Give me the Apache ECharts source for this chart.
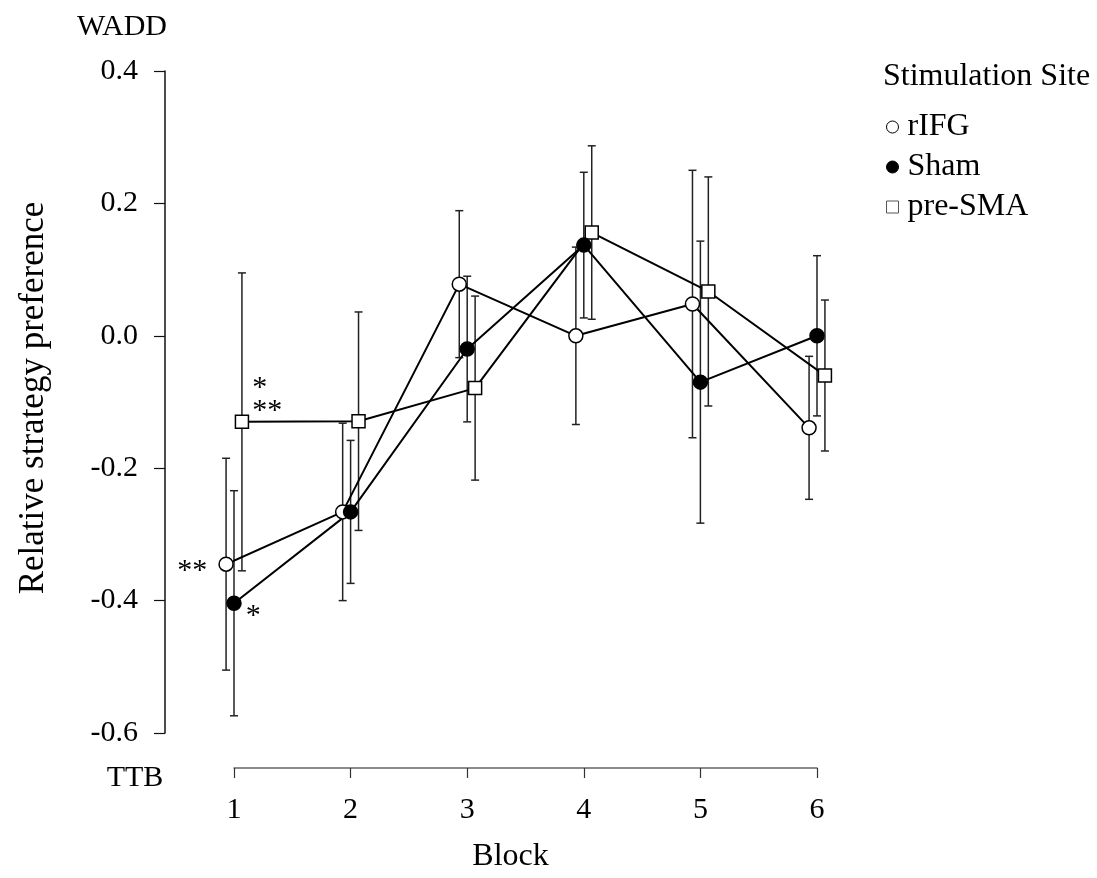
<!DOCTYPE html>
<html>
<head>
<meta charset="utf-8">
<style>
  html, body { margin: 0; padding: 0; background: #fff; }
  #chart { width: 1097px; height: 878px; }
</style>
<script src="https://cdn.jsdelivr.net/npm/echarts@6/dist/echarts.min.js"></script>
</head>
<body>
<div id="chart"></div>
<script>
// Blocks on the x axis
const blocks = [1, 2, 3, 4, 5, 6];

// Mean relative strategy preference per block (WADD positive, TTB negative)
const rIFG   = [-0.345, -0.266,  0.078, 0.000,  0.048, -0.139];
const sham   = [-0.404, -0.266, -0.020, 0.137, -0.070,  0.000];
const preSMA = [-0.130, -0.129, -0.079, 0.156,  0.067, -0.060];

// Error bar half-lengths
const rIFGErr   = [0.160, 0.134, 0.111, 0.134, 0.202, 0.108];
const shamErr   = [0.170, 0.108, 0.110, 0.110, 0.213, 0.121];
const preSMAErr = [0.225, 0.165, 0.139, 0.131, 0.173, 0.114];

// Significance markers per block
const rIFGSig   = ['**', '', '', '', '', ''];
const shamSig   = ['*', '', '', '', '', ''];
const preSMASig = ['*\n**', '', '', '', '', ''];

// Y axis tick values
const yTicks = [-0.6, -0.4, -0.2, 0.0, 0.2, 0.4];

const FONT = 'Liberation Serif';
const DODGE = 0.068;   // horizontal spread of the three groups within a block

const chart = echarts.init(document.getElementById('chart'), null, { renderer: 'canvas' });

function pts(values, shift) {
  return blocks.map((b, i) => [b + shift, values[i]]);
}
function errPts(values, errs, shift) {
  return blocks.map((b, i) => [b + shift, values[i], errs[i]]);
}
function markerPts(values, sig, shift) {
  return blocks.map((b, i) => ({ value: [b + shift, values[i]], sig: sig[i] }));
}

function errorBar(params, api) {
  const x = api.value(0), v = api.value(1), e = api.value(2);
  const top = api.coord([x, v + e]);
  const bot = api.coord([x, v - e]);
  const cap = 4;
  const style = { stroke: '#222', lineWidth: 1.5 };
  return {
    type: 'group',
    children: [
      { type: 'line', shape: { x1: top[0], y1: top[1], x2: bot[0], y2: bot[1] }, style },
      { type: 'line', shape: { x1: top[0] - cap, y1: top[1], x2: top[0] + cap, y2: top[1] }, style },
      { type: 'line', shape: { x1: bot[0] - cap, y1: bot[1], x2: bot[0] + cap, y2: bot[1] }, style }
    ]
  };
}

function sigLabel(position, offset, align) {
  return {
    show: true,
    position: position,
    offset: offset,
    align: align,
    fontFamily: FONT,
    fontSize: 30,
    lineHeight: 23,
    color: '#000',
    formatter: p => p.data.sig || ''
  };
}

const groups = [
  { name: 'rIFG',    vals: rIFG,   errs: rIFGErr,   sig: rIFGSig,   shift: -DODGE,
    symbol: 'circle', size: 14, fill: '#fff', label: sigLabel('left', [-6, 7]) },
  { name: 'pre-SMA', vals: preSMA, errs: preSMAErr, sig: preSMASig, shift: DODGE,
    symbol: 'rect',   size: 13, fill: '#fff', label: sigLabel('right', [-2, -22], 'left') },
  { name: 'Sham',    vals: sham,   errs: shamErr,   sig: shamSig,   shift: 0,
    symbol: 'circle', size: 14, fill: '#000', label: sigLabel('right', [-1, 13]) }
];

const series = [];
groups.forEach(g => {
  series.push({
    name: g.name + ' SE',
    type: 'custom',
    renderItem: errorBar,
    data: errPts(g.vals, g.errs, g.shift),
    encode: { x: 0, y: 1 },
    clip: false,
    z: 1,
    silent: true
  });
});
groups.forEach(g => {
  series.push({
    name: g.name + ' line',
    type: 'line',
    data: pts(g.vals, g.shift),
    showSymbol: false,
    symbol: 'none',
    clip: false,
    lineStyle: { color: '#000', width: 2 },
    z: 2,
    silent: true
  });
});
groups.forEach(g => {
  series.push({
    name: g.name,
    type: 'scatter',
    data: markerPts(g.vals, g.sig, g.shift),
    symbol: g.symbol,
    symbolSize: g.size,
    clip: false,
    itemStyle: { color: g.fill, borderColor: '#000', borderWidth: 1.5, opacity: 1 },
    label: g.label,
    z: 3
  });
});

const option = {
  animation: false,
  backgroundColor: '#fff',
  textStyle: { fontFamily: FONT, color: '#000' },
  grid: { left: 234, right: 280, top: 71, bottom: 145, containLabel: false },
  xAxis: {
    type: 'value',
    min: 1, max: 6, interval: 1,
    offset: 35,
    axisLine: { show: true, onZero: false, lineStyle: { color: '#666', width: 1.5 } },
    axisTick: { show: true, length: 10, lineStyle: { color: '#333', width: 1.2 } },
    axisLabel: { fontFamily: FONT, fontSize: 30, color: '#000', margin: 27, formatter: v => String(v) },
    splitLine: { show: false },
    name: 'Block',
    nameLocation: 'middle',
    nameGap: 73,
    nameTextStyle: { fontFamily: FONT, fontSize: 32, color: '#000', padding: [0, 30, 0, 0] }
  },
  yAxis: {
    type: 'value',
    min: yTicks[0], max: yTicks[yTicks.length - 1], interval: 0.2,
    offset: 69,
    axisLine: { show: true, onZero: false, lineStyle: { color: '#111', width: 1.5 } },
    axisTick: { show: true, length: 11, lineStyle: { color: '#111', width: 1.2 } },
    axisLabel: { fontFamily: FONT, fontSize: 30, color: '#000', margin: 27, padding: [9, 0, 0, 0], formatter: v => v.toFixed(1) },
    splitLine: { show: false },
    name: 'Relative strategy preference',
    nameLocation: 'middle',
    nameGap: 114,
    nameRotate: 90,
    nameTextStyle: { fontFamily: FONT, fontSize: 35, color: '#000', padding: [0, 0, 0, 8] }
  },
  legend: {
    orient: 'vertical',
    left: 881,
    top: 106,
    itemWidth: 12,
    itemHeight: 12,
    itemGap: 8,
    textStyle: { fontFamily: FONT, fontSize: 32, color: '#000', padding: [0, 0, 0, 4] },
    data: [
      { name: 'rIFG',    icon: 'circle', itemStyle: { color: '#fff', borderColor: '#000', borderWidth: 1 } },
      { name: 'Sham',    icon: 'circle', itemStyle: { color: '#000', borderColor: '#000', borderWidth: 1 } },
      { name: 'pre-SMA', icon: 'rect',   itemStyle: { color: '#fff', borderColor: '#555', borderWidth: 1 } }
    ],
    selectedMode: false
  },
  graphic: [
    { type: 'text', left: 883, top: 61, style: { text: 'Stimulation Site', font: '32px "Liberation Serif"', fill: '#000' } },
    { type: 'text', x: 122, y: 27, style: { text: 'WADD', font: '30px "Liberation Serif"', fill: '#000', align: 'center', verticalAlign: 'middle' } },
    { type: 'text', x: 135, y: 778, style: { text: 'TTB', font: '30px "Liberation Serif"', fill: '#000', align: 'center', verticalAlign: 'middle' } }
  ],
  series: series
};

chart.setOption(option);
</script>
</body>
</html>
